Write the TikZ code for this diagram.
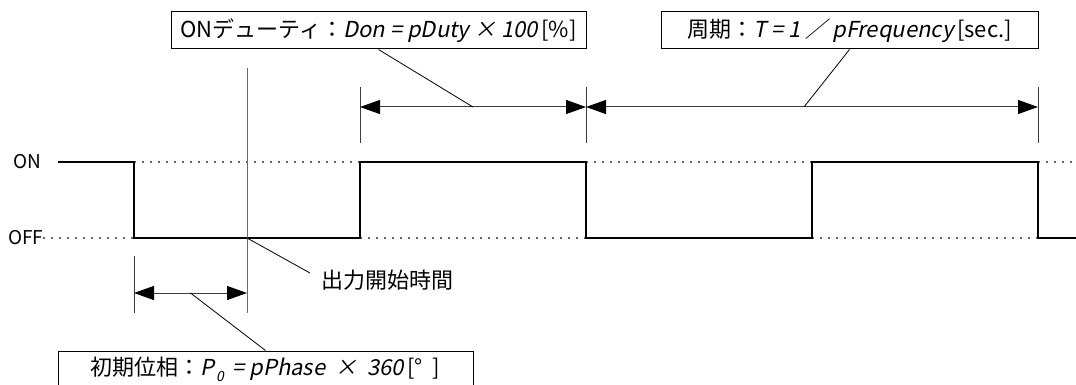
\documentclass[tikz,border=0pt]{standalone}
\usepackage{fontspec}
\setmainfont{Noto Sans CJK JP}
\newfontfamily\jpslant[FakeSlant=0.2]{Noto Sans CJK JP}
\usetikzlibrary{arrows.meta,positioning,calc}
\definecolor{gris}{HTML}{3C3C3C}
\definecolor{grisclaro}{HTML}{6A6A6A}
\newcommand{\slnt}[1]{{\jpslant #1}}
\newcommand{\subcero}{\kern1.5pt\raisebox{-0.45ex}{\fontsize{14}{14}\selectfont 0}}
\tikzset{
  wave/.style={line width=2pt,line join=miter},
  levelline/.style={draw=grisclaro,line width=1.2pt,dash pattern=on 2pt off 6pt},
  extline/.style={draw=gris,line width=1pt},
  startline/.style={draw=grisclaro,line width=1pt},
  dimarrow/.style={{Triangle[length=20pt,width=14pt,color=black]}-{Triangle[length=20pt,width=14pt,color=black]},
    line width=1pt,draw=gris},
  leader/.style={draw=black,line width=0.8pt},
  formula/.style={draw=black,line width=1pt,fill=white,minimum height=37pt,inner sep=0pt,
    font=\fontsize{22}{26}\selectfont},
  levellabel/.style={inner sep=0pt,anchor=west,font=\fontsize{19}{22}\selectfont},
  notelabel/.style={inner sep=0pt,anchor=west,font=\fontsize{22}{26}\selectfont}
}
\begin{document}
\begin{tikzpicture}[x=1pt,y=-1pt]
\useasboundingbox (0,0) rectangle (1076,385);
% niveles ON / OFF
\node[levellabel] (on) at (13,162) {ON};
\node[levellabel] (off) at (8,238) {OFF};
\draw[levelline] (off.east) -- (134,238);
\draw[levelline] (134,162) -- (360,162);
\draw[levelline] (360,238) -- (586,238);
\draw[levelline] (586,162) -- (812,162);
\draw[levelline] (812,238) -- (1038,238);
\draw[levelline] (1038,162) -- (1076,162);
% forma de onda
\draw[wave] (58,162) -| (134,238) -| (360,162) -| (586,238) -| (812,162) -| (1038,238) -- (1076,238);
% lineas de cota
\draw[startline] (247,68) -- (247,313);
\foreach \x in {360,586,1038} \draw[extline] (\x,87) -- (\x,143);
\draw[extline] (134,256) -- (134,313);
\coordinate (dA) at (360,107);
\coordinate (dB) at (586,107);
\coordinate (dC) at (1038,107);
\coordinate (dmid) at (804,107);
\coordinate (pA) at (134,293);
\coordinate (pB) at (247,293);
\coordinate (t0) at (247,238);
\draw[dimarrow] (dA) -- (dB);
\draw[dimarrow] (dB) -- (dC);
\draw[dimarrow] (pA) -- (pB);
% cajas
\node[formula,minimum width=415pt] (duty) at (378.5,30.5)
  {ONデューティ：\slnt{Don = pDuty\ ×\ 100}\,[\%]};
\node[formula,minimum width=377pt] (period) at (849.5,30.5)
  {周期：\slnt{T = 1 ／ pFrequency}\,[sec.]};
\node[formula,minimum width=415pt] (phase) at (265.5,369.5)
  {初期位相：\slnt{P\subcero\,\ = pPhase\ \ ×\ \ 360}\,[°\ \ ]};
\node[notelabel] (inicio) at (321,280) {出力開始時間};
\draw[leader] (duty.south) -- ($(dA)!0.5!(dB)$);
\draw[leader] (period.south) -- (dmid);
\draw[leader] (phase.north) -- ($(pA)!0.5!(pB)$);
\draw[leader] (t0) -- ([xshift=-11pt,yshift=7pt]inicio.west);
\end{tikzpicture}
\end{document}
